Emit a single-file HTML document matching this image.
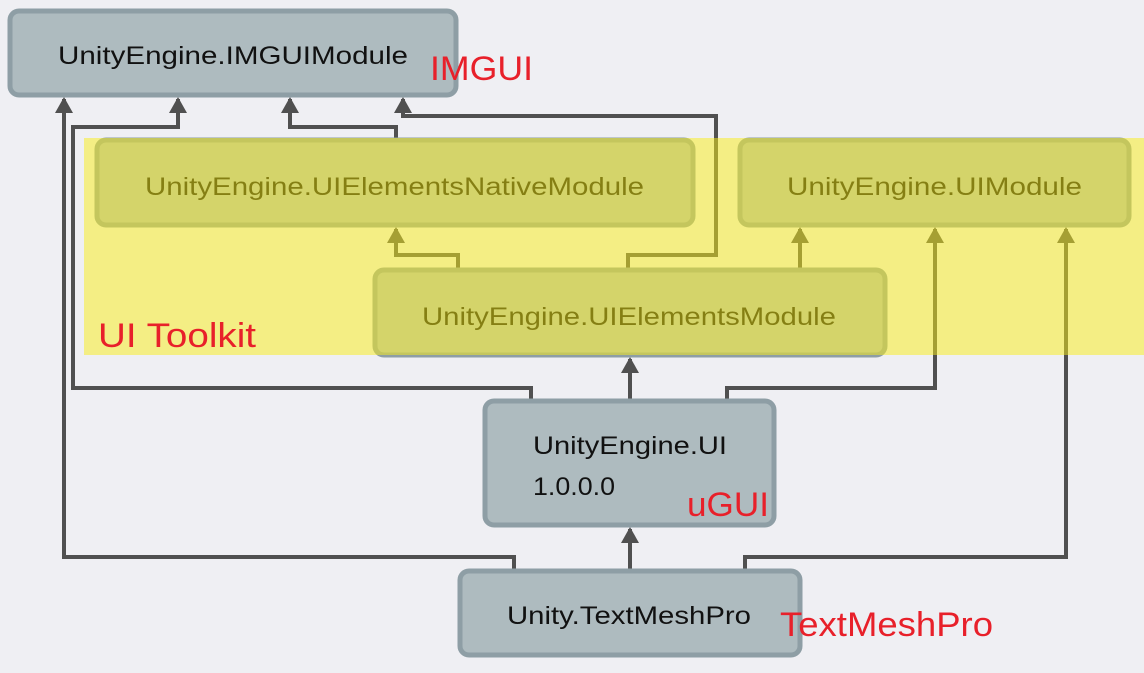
<!DOCTYPE html>
<html><head><meta charset="utf-8"><style>
html,body{margin:0;padding:0;background:#efeff3;}
svg{display:block}
text{font-family:"Liberation Sans",sans-serif;}
</style></head><body>
<svg width="1144" height="673" viewBox="0 0 1144 673" xmlns="http://www.w3.org/2000/svg">
<rect width="1144" height="673" fill="#efeff3"/>
<g fill="none" stroke="#505050" stroke-width="4">
<path d="M514 570 V557 H64 V99" />
<path d="M531 400 V388 H73 V127 H178 V99" />
<path d="M396 139 V127 H290 V99" />
<path d="M628 269 V255 H716 V116 H403 V99" />
<path d="M458 269 V255 H396 V229" />
<path d="M800 269 V229" />
<path d="M630 400 V359" />
<path d="M727 400 V388 H935 V229" />
<path d="M630 570 V529" />
<path d="M745 570 V557 H1066 V229" />
</g>
<g fill="#505050">
<path d="M55 113 L64 97 L73 113Z"/>
<path d="M169 113 L178 97 L187 113Z"/>
<path d="M281 113 L290 97 L299 113Z"/>
<path d="M394 113 L403 97 L412 113Z"/>
<path d="M387 243 L396 227 L405 243Z"/>
<path d="M791 243 L800 227 L809 243Z"/>
<path d="M621 373 L630 357 L639 373Z"/>
<path d="M926 243 L935 227 L944 243Z"/>
<path d="M621 543 L630 527 L639 543Z"/>
<path d="M1057 243 L1066 227 L1075 243Z"/>
</g>
<g fill="#aebbbf" stroke="#8e9ea5" stroke-width="5">
<rect x="10" y="11" width="446" height="84" rx="9"/>
<rect x="97" y="140" width="596" height="85" rx="9"/>
<rect x="740" y="140" width="389" height="85" rx="9"/>
<rect x="375" y="270" width="510" height="85" rx="9"/>
<rect x="485" y="401" width="289" height="124" rx="9"/>
<rect x="460" y="571" width="340" height="84" rx="9"/>
</g>
<g fill="#111" font-size="25">
<text x="58" y="64" textLength="350" lengthAdjust="spacingAndGlyphs">UnityEngine.IMGUIModule</text>
<text x="145" y="195" textLength="499" lengthAdjust="spacingAndGlyphs">UnityEngine.UIElementsNativeModule</text>
<text x="787" y="195" textLength="295" lengthAdjust="spacingAndGlyphs">UnityEngine.UIModule</text>
<text x="422" y="325" textLength="414" lengthAdjust="spacingAndGlyphs">UnityEngine.UIElementsModule</text>
<text x="533" y="454" textLength="194" lengthAdjust="spacingAndGlyphs">UnityEngine.UI</text>
<text x="533" y="495" textLength="82" lengthAdjust="spacingAndGlyphs">1.0.0.0</text>
<text x="507" y="624" textLength="244" lengthAdjust="spacingAndGlyphs">Unity.TextMeshPro</text>
</g>
<rect x="84" y="138" width="1060" height="217" fill="rgb(249,237,21)" opacity="0.5"/>
<g fill="#e8202a" font-size="34">
<text x="430" y="80" textLength="103" lengthAdjust="spacingAndGlyphs">IMGUI</text>
<text x="98" y="347" textLength="158" lengthAdjust="spacingAndGlyphs">UI Toolkit</text>
<text x="687" y="516" textLength="82" lengthAdjust="spacingAndGlyphs">uGUI</text>
<text x="780" y="636" textLength="213" lengthAdjust="spacingAndGlyphs">TextMeshPro</text>
</g>
</svg>
</body></html>
